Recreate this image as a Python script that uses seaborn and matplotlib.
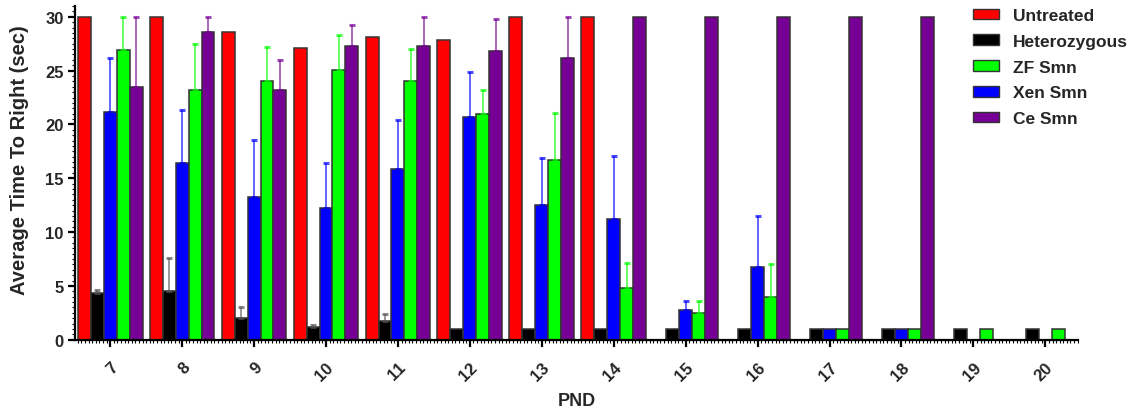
import matplotlib

matplotlib.use("Agg")
import matplotlib.pyplot as plt
import numpy as np
import pandas as pd
import seaborn as sns
from matplotlib.patches import Patch
from matplotlib.ticker import MultipleLocator

NAN = np.nan

PND = ["7", "8", "9", "10", "11", "12", "13", "14", "15", "16", "17", "18", "19", "20"]

UNTREATED = [30, 30, 28.6, 27.1, 28.1, 27.8, 30, 30, NAN, NAN, NAN, NAN, NAN, NAN]
UNTREATED_ERR = [0] * 14

HETERO = [4.3, 4.5, 2.0, 1.2, 1.7, 1, 1, 1, 1, 1, 1, 1, 1, 1]
HETERO_ERR = [0.3, 3.1, 1.0, 0.2, 0.7, 0, 0, 0, 0, 0, 0, 0, 0, 0]

XEN = [21.2, 16.4, 13.3, 12.2, 15.9, 20.7, 12.5, 11.2, 2.8, 6.8, 1, 1, NAN, NAN]
XEN_ERR = [5.0, 4.9, 5.3, 4.2, 4.5, 4.2, 4.4, 5.9, 0.8, 4.7, 0, 0, 0, 0]

ZF = [26.9, 23.2, 24.0, 25.1, 24.0, 21.0, 16.7, 4.8, 2.5, 4.0, 1, 1, 1, 1]
ZF_ERR = [3.1, 4.3, 3.2, 3.2, 3.0, 2.2, 4.4, 2.3, 1.1, 3.0, 0, 0, 0, 0]

CE = [23.5, 28.6, 23.2, 27.3, 27.3, 26.8, 26.2, 30, 30, 30, 30, 30, NAN, NAN]
CE_ERR = [6.5, 1.4, 2.8, 1.9, 2.7, 3.0, 3.8, 0, 0, 0, 0, 0, 0, 0]

GROUPS = {
    "Untreated": (UNTREATED, UNTREATED_ERR, "#FF0000"),
    "Heterozygous": (HETERO, HETERO_ERR, "#000000"),
    "Xen Smn": (XEN, XEN_ERR, "#0000FF"),
    "ZF Smn": (ZF, ZF_ERR, "#00FF00"),
    "Ce Smn": (CE, CE_ERR, "#760096"),
}
BAR_ORDER = ["Untreated", "Heterozygous", "Xen Smn", "ZF Smn", "Ce Smn"]
LEGEND_ORDER = ["Untreated", "Heterozygous", "ZF Smn", "Xen Smn", "Ce Smn"]


def build_frame() -> pd.DataFrame:
    rows = []
    for name, (values, errs, _) in GROUPS.items():
        for pnd, value, err in zip(PND, values, errs):
            rows.append({"PND": pnd, "group": name, "time": value, "err": err})
    return pd.DataFrame(rows).dropna(subset=["time"])


def main() -> None:
    df = build_frame()
    sns.set_theme(style="ticks")
    plt.rcParams["font.family"] = ["Liberation Sans", "DejaVu Sans"]
    plt.rcParams["font.weight"] = "bold"

    fig = plt.figure(figsize=(11.39, 4.14), dpi=100)
    ax = fig.add_axes([0.0658, 0.177, 0.881, 0.806])

    palette = {name: spec[2] for name, spec in GROUPS.items()}
    sns.barplot(
        data=df,
        x="PND",
        y="time",
        hue="group",
        order=PND,
        hue_order=BAR_ORDER,
        palette=palette,
        width=0.9,
        errorbar=None,
        saturation=1,
        edgecolor="#333333",
        linewidth=1.1,
        legend=False,
        ax=ax,
    )

    # upper-only error bars, placed on the bars seaborn drew
    for name, container in zip(BAR_ORDER, ax.containers):
        errs = GROUPS[name][1]
        color = GROUPS[name][2]
        ecolor = "#555555" if name == "Heterozygous" else color
        for bar in container:
            cx = bar.get_x() + bar.get_width() / 2
            idx = int(round(cx))
            err = errs[idx]
            if err > 0:
                ax.errorbar(
                    cx,
                    bar.get_height(),
                    yerr=[[0], [err]],
                    fmt="none",
                    ecolor=ecolor,
                    alpha=0.7,
                    elinewidth=1.2,
                    capsize=2.0,
                    capthick=2.2,
                    zorder=1,
                )

    ax.set_xlim(-0.49, 13.46)
    ax.set_ylim(0, 31)
    ax.set_yticks([0, 5, 10, 15, 20, 25, 30])
    ax.yaxis.set_minor_locator(MultipleLocator(0.5))
    ax.xaxis.set_minor_locator(MultipleLocator(0.05))
    sns.despine(ax=ax)
    for side in ["left", "bottom"]:
        ax.spines[side].set_linewidth(1.6)
        ax.spines[side].set_color("black")

    ax.tick_params(axis="both", which="major", length=5, width=1.6, labelsize=12, color="black")
    ax.tick_params(axis="both", which="minor", length=2, width=0.8, color="black")
    ax.tick_params(axis="x", which="major", pad=9)
    ax.tick_params(axis="y", which="major", pad=3)
    for label in ax.get_xticklabels():
        label.set_rotation(45)
        label.set_ha("right")
        label.set_va("top")
        label.set_rotation_mode("anchor")
        label.set_fontweight("bold")
    for label in ax.get_yticklabels():
        label.set_fontweight("bold")

    ax.set_xlabel("PND", fontsize=13, fontweight="bold")
    ax.xaxis.set_label_coords(0.5, -0.158)
    ax.set_ylabel("Average Time To Right (sec)", fontsize=14.5, fontweight="bold")
    ax.yaxis.set_label_coords(-0.046, 0.54)

    handles = [
        Patch(facecolor=GROUPS[name][2], edgecolor="#333333", linewidth=1.0, label=name)
        for name in LEGEND_ORDER
    ]
    fig.legend(
        handles=handles,
        loc="upper left",
        bbox_to_anchor=(973 / 1139, 1 - 9 / 414),
        frameon=False,
        prop={"size": 12.5, "weight": "bold"},
        handlelength=1.5,
        handleheight=0.57,
        handletextpad=0.8,
        labelspacing=0.62,
        borderpad=0,
        borderaxespad=0,
    )

    fig.savefig("out.png", dpi=100)
    plt.close(fig)


if __name__ == "__main__":
    main()
